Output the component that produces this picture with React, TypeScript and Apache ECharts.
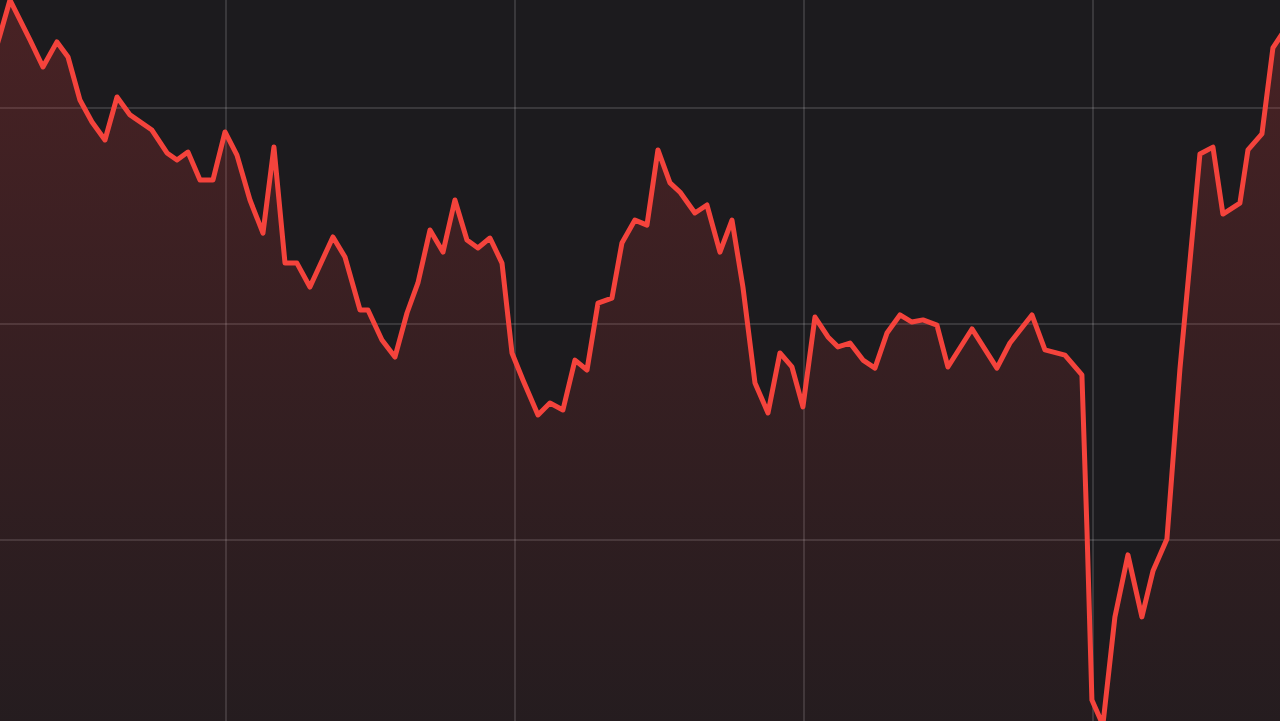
import React, { useEffect, useRef } from "react";
import * as echarts from "echarts";

// Trading day index (x) and price (y)
const days: number[] = [
  4.57, 5.23, 6.06, 7.72, 8.8, 9.96, 10.88, 11.87, 12.87, 13.95, 14.95, 16.03, 17.85, 19.1, 19.93,
  20.84, 21.84, 22.92, 23.92, 24.91, 25.99, 27.07, 27.98, 28.9, 29.89, 30.97, 32.88, 33.88, 35.13,
  35.79, 36.95, 38.03, 39.03, 39.94, 40.94, 42.02, 43.01, 44.01, 44.92, 45.92, 46.92, 47.75, 48.66,
  49.91, 50.9, 51.98, 52.98, 53.98, 54.89, 56.05, 56.88, 57.96, 58.96, 59.87, 60.87, 61.7, 62.94,
  63.94, 65.02, 66.02, 66.93, 67.93, 69.01, 70.0, 71.0, 71.91, 72.91, 73.99, 74.82, 75.82, 76.9,
  77.89, 78.89, 79.97, 80.96, 81.88, 83.04, 83.95, 85.95, 88.02, 89.1, 90.93, 92.01, 93.67, 95.08,
  95.5, 95.91, 96.82, 97.82, 98.9, 100.06, 100.98, 102.14, 103.22, 104.88, 105.96, 106.79, 108.2,
  108.87, 110.03, 110.94, 112.19,
];

const prices: number[] = [
  132.13, 133.38, 135.0, 133.15, 131.9, 133.06, 132.36, 130.37, 129.35, 128.52, 130.51, 129.68,
  128.98, 127.92, 127.59, 127.96, 126.67, 126.67, 128.89, 127.82, 125.74, 124.21, 128.19, 122.82,
  122.82, 121.71, 124.03, 123.1, 120.65, 120.65, 119.26, 118.47, 120.51, 121.9, 124.35, 123.33,
  125.74, 123.89, 123.52, 123.98, 122.82, 118.66, 117.41, 115.79, 116.34, 116.02, 118.33, 117.87,
  120.97, 121.2, 123.75, 124.81, 124.58, 128.06, 126.53, 126.11, 125.14, 125.51, 123.33, 124.81,
  121.71, 117.27, 115.88, 118.66, 118.01, 116.16, 120.32, 119.4, 118.94, 119.12, 118.33, 117.96,
  119.58, 120.42, 120.09, 120.19, 119.95, 118.01, 119.77, 117.96, 119.12, 120.42, 118.8, 118.56,
  117.64, 110.46, 102.59, 101.44, 106.44, 109.31, 106.44, 108.56, 110.05, 117.92, 127.87, 128.19,
  125.09, 125.6, 128.06, 128.8, 132.78, 133.84,
];

export default function App() {
  const ref = useRef<HTMLDivElement>(null);

  useEffect(() => {
    if (!ref.current) return;
    const chart = echarts.init(ref.current, undefined, { renderer: "svg" });
    const data = days.map((d, i) => [d, prices[i]]);
    chart.setOption({
      animation: false,
      backgroundColor: "#1c1b1e",
      grid: { left: 0, right: 0, top: 0, bottom: 0, containLabel: false },
      xAxis: {
        type: "value",
        min: 0,
        max: 120,
        interval: 24,
        axisLine: { show: false },
        axisTick: { show: false },
        axisLabel: { show: false },
        splitLine: { show: true, lineStyle: { color: "rgba(255,255,255,0.13)", width: 2 } },
      },
      yAxis: {
        type: "value",
        min: 100,
        max: 140,
        interval: 10,
        axisLine: { show: false },
        axisTick: { show: false },
        axisLabel: { show: false },
        splitLine: { show: true, lineStyle: { color: "rgba(255,255,255,0.13)", width: 2 } },
      },
      series: [
        {
          type: "line",
          data,
          symbol: "none",
          smooth: false,
          lineStyle: { color: "#f4433c", width: 5, join: "round", cap: "round" },
          areaStyle: {
            origin: "start",
            color: new echarts.graphic.LinearGradient(0, 0, 0, 1, [
              { offset: 0, color: "rgba(232,58,58,0.31)" },
              { offset: 1, color: "rgba(232,58,58,0.05)" },
            ]),
          },
        },
      ],
    });
    return () => chart.dispose();
  }, []);

  return (
    <div
      style={{ position: "fixed", left: 0, top: 0, width: 1280, height: 721, overflow: "hidden", background: "#1c1b1e" }}
    >
      <div
        ref={ref}
        style={{ position: "absolute", left: -63, top: -108, width: 1445, height: 864 }}
      />
    </div>
  );
}
